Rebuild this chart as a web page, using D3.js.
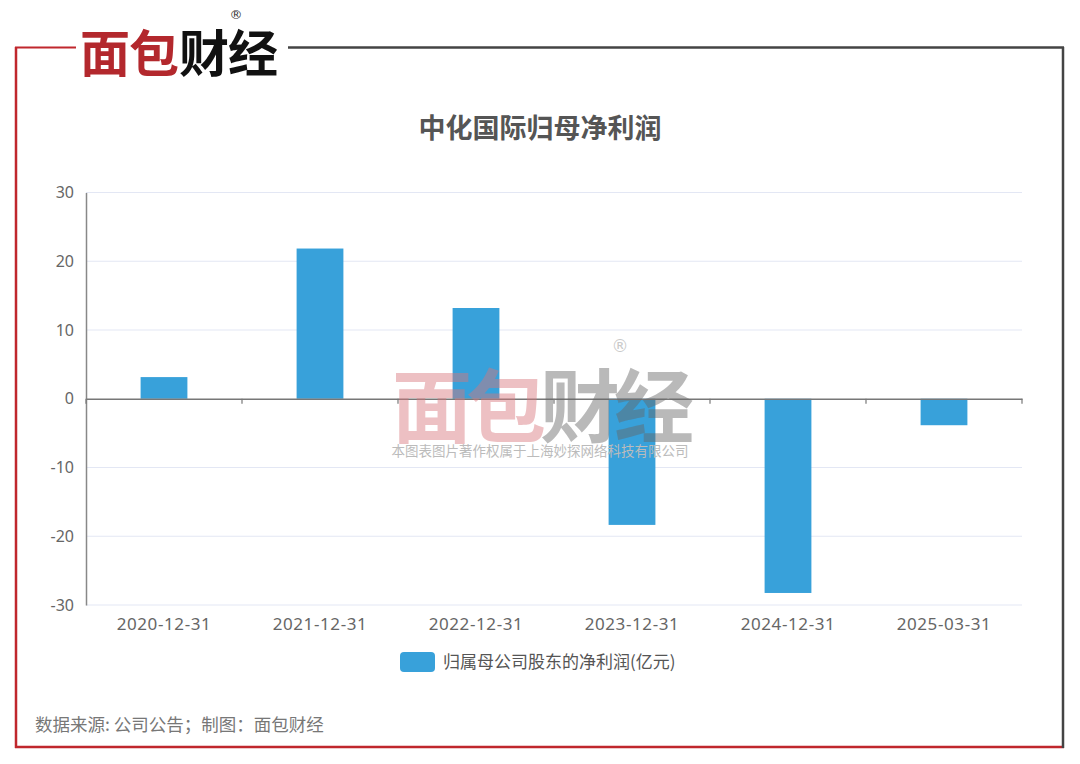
<!DOCTYPE html>
<html><head><meta charset="utf-8">
<script src="https://cdn.jsdelivr.net/npm/d3@7"></script>
<style>body{margin:0;background:#fff;}svg{display:block;font-family:"Noto Sans CJK SC","Noto Sans",sans-serif;}</style>
</head><body><svg id="c" width="1080" height="764"></svg>
<script>
const categories = ["2020-12-31","2021-12-31","2022-12-31","2023-12-31","2024-12-31","2025-03-31"];
const values = [3.15, 21.85, 13.2, -18.35, -28.25, -3.85];
const yTicks = [30,20,10,0,-10,-20,-30];
const seriesName = "归属母公司股东的净利润(亿元)";
const title = "中化国际归母净利润";
const source = "数据来源: 公司公告；制图：面包财经";

const svg = d3.select("#c");
// frame
svg.append("line").attr("x1",16).attr("x2",16).attr("y1",47).attr("y2",748).attr("stroke","#c0272d").attr("stroke-width",2.5);
svg.append("line").attr("x1",15).attr("x2",1064).attr("y1",747).attr("y2",747).attr("stroke","#c0272d").attr("stroke-width",2.5);
svg.append("line").attr("x1",15).attr("x2",76).attr("y1",47.5).attr("y2",47.5).attr("stroke","#c0272d").attr("stroke-width",2);
svg.append("line").attr("x1",288).attr("x2",1064).attr("y1",47.5).attr("y2",47.5).attr("stroke","#444").attr("stroke-width",2.5);
svg.append("line").attr("x1",1063).attr("x2",1063).attr("y1",47).attr("y2",748).attr("stroke","#444").attr("stroke-width",2.5);

// logo
const logo = svg.append("g");
logo.append("text").attr("x",80).attr("y",72).attr("font-size",50).attr("font-weight",700).attr("fill","#b3282d").attr("letter-spacing",-1).text("面包");
logo.append("text").attr("x",179).attr("y",72).attr("font-size",50).attr("font-weight",700).attr("fill","#111").attr("letter-spacing",-1).text("财经");
logo.append("text").attr("x",236).attr("y",19).attr("font-size",13).attr("font-family","DejaVu Sans").attr("fill","#333").attr("text-anchor","middle").text("®");

// title
svg.append("text").attr("x",540).attr("y",138).attr("text-anchor","middle").attr("font-size",27).attr("font-weight",700).attr("fill","#555").text(title);

const x = d3.scaleBand().domain(categories).range([86,1022]).paddingInner(0).paddingOuter(0);
const y = d3.scaleLinear().domain([-30,30]).range([605,192.5]);

// grid
svg.append("g").selectAll("line").data(yTicks.filter(d=>d!==0)).join("line")
 .attr("x1",86).attr("x2",1022).attr("y1",d=>y(d)).attr("y2",d=>y(d)).attr("stroke","#e3e7f4").attr("stroke-width",1);

// y axis
const ya = svg.append("g").attr("transform","translate(86,0)").call(d3.axisLeft(y).tickValues(yTicks).tickSize(0).tickPadding(12).tickFormat(d=>String(d)));
ya.select(".domain").attr("stroke","#888").attr("stroke-width",1.5);
ya.selectAll("text").attr("font-size",16).attr("fill","#666").attr("font-family","Noto Sans, sans-serif");

// bars
const bw = x.bandwidth()*0.3;
svg.append("g").selectAll("rect").data(values).join("rect")
 .attr("x",(d,i)=>x(categories[i])+x.bandwidth()/2-bw/2).attr("width",bw)
 .attr("y",d=>y(Math.max(0,d))).attr("height",d=>Math.abs(y(d)-y(0)))
 .attr("fill","#38a1da");

// x axis at zero
const xa = svg.append("g").attr("transform",`translate(0,${y(0)})`).call(d3.axisBottom(x).tickSize(0).tickFormat(""));
xa.select(".domain").attr("stroke","#777").attr("stroke-width",1.5);
const bounds = categories.map(c=>x(c)).concat([1022]);
svg.append("g").selectAll("line").data(bounds).join("line")
 .attr("x1",d=>d).attr("x2",d=>d).attr("y1",y(0)).attr("y2",y(0)+5).attr("stroke","#777").attr("stroke-width",1.2);
svg.append("g").selectAll("text").data(categories).join("text")
 .attr("x",d=>x(d)+x.bandwidth()/2).attr("y",630).attr("text-anchor","middle").attr("font-size",17).attr("letter-spacing",0.6).attr("fill","#666").attr("font-family","Noto Sans, sans-serif").text(d=>d);

// watermark
const wm = svg.append("g").attr("opacity",0.45);
wm.append("text").attr("x",392).attr("y",436).attr("font-size",80).attr("font-weight",700).attr("fill","#d9757b").attr("letter-spacing",-6).text("面包");
wm.append("text").attr("x",540).attr("y",436).attr("font-size",80).attr("font-weight",700).attr("fill","#666").attr("letter-spacing",-6).text("财经");
wm.append("text").attr("x",620).attr("y",352).attr("font-size",17).attr("font-family","DejaVu Sans").attr("fill","#888").attr("text-anchor","middle").text("®");
svg.append("text").attr("x",540).attr("y",456).attr("text-anchor","middle").attr("font-size",13.5).attr("fill","#bbb").text("本图表图片著作权属于上海妙探网络科技有限公司");

// legend
svg.append("rect").attr("x",400).attr("y",652).attr("width",35).attr("height",20).attr("rx",4).attr("fill","#38a1da");
svg.append("text").attr("x",443).attr("y",668).attr("font-size",17).attr("fill","#555").text(seriesName);

// footer
svg.append("text").attr("x",35).attr("y",731).attr("font-size",17.5).attr("fill","#777").text(source);
</script></body></html>
